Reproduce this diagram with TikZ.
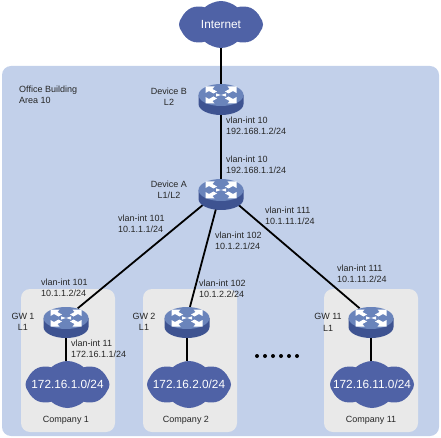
\documentclass[tikz,border=0pt]{standalone}
\usepackage{fontspec}
\setmainfont{Liberation Sans}
\usetikzlibrary{arrows.meta, shapes.geometric, shapes.symbols}
\definecolor{areablue}{HTML}{C2D0EA}
\definecolor{officegray}{HTML}{E9E9E9}
\definecolor{cloudblue}{HTML}{4F62A6}
\definecolor{routertop}{HTML}{6A84BB}
\definecolor{routerside}{HTML}{3E5391}
\newcommand{\smalltype}{\fontsize{9}{11.3}\selectfont}
\newcommand{\bigtype}{\fontsize{11.8}{14}\selectfont}

\tikzset{
  routerface/.pic = {
    \fill[routerside] (-22.5,0) -- (-22.5,9) arc[start angle=180, end angle=0, x radius=22.5, y radius=11] -- (22.5,0) -- cycle;
    \fill[routertop] (0,0) ellipse[x radius=22.5, y radius=11];
    \foreach \sx in {-1,1} {
      \foreach \sy in {-1,1} {
        % one outward arrow per corner
        \fill[white] (\sx*15.5,\sy*8.5) -- (\sx*6.5,\sy*8.5) -- (\sx*8.5,\sy*6) -- (\sx*4,\sy*3.5) -- (\sx*7.5,\sy*1.5) -- (\sx*12,\sy*4) -- (\sx*15.5,\sy*2) -- cycle;
      }
    }
    \fill[white] (-5,-1.6) -- (5,1.6) -- (5,-1.6) -- (-5,1.6) -- cycle;
  }
}

\begin{document}
\begin{tikzpicture}[
  x=1pt, y=-1pt,
  every node/.style = {font=\smalltype, text=black!85, inner sep=0pt},
  area/.style = {fill=areablue, rounded corners=9pt},
  office/.style = {fill=officegray, rounded corners=9pt},
  router/.style = {ellipse, minimum width=45pt, minimum height=22pt},
  lan/.style = {cloud, cloud puffs=8, cloud puff arc=85, aspect=1.85, fill=cloudblue, minimum width=84pt, minimum height=47pt,
    label={[text=white, font=\bigtype]center:#1}},
  info/.style = {align=left, anchor=west},
  devlabel/.style = {align=center},
  link/.style = {line width=1.8pt, black}
]
  \useasboundingbox (0,0) rectangle (441,438);

  \fill[area] (2,66) -- (439,66) -- (439,436) -- (2,436) -- cycle;
  \fill[office] (21,289) rectangle (115,432);
  \fill[office] (143,289) rectangle (237,432);
  \fill[office] (324,289) rectangle (418,432);

  \node[lan=Internet] (inet) at (221,24.5) {};
  \node[lan=172.16.1.0/24] (net1) at (67.5,384.5) {};
  \node[lan=172.16.2.0/24] (net2) at (189,384.5) {};
  \node[lan=172.16.11.0/24] (net11) at (372,384.5) {};

  \node[router] (devb) at (221,95) {};
  \node[router] (deva) at (221,190) {};
  \node[router] (gw1) at (66,318) {};
  \node[router] (gw2) at (187,318) {};
  \node[router] (gw11) at (371,318) {};

  \draw[link] (inet) -- (devb);
  \draw[link] (devb) -- (deva);
  \draw[link] (deva) -- (gw1);
  \draw[link] (deva) -- (gw2);
  \draw[link] (deva) -- (gw11);
  \draw[link] (gw1) -- (gw1 |- net1.north);
  \draw[link] (gw2) -- (gw2 |- net2.north);
  \draw[link] (gw11) -- (gw11 |- net11.north);

  \pic at (devb) {routerface};
  \pic at (deva) {routerface};
  \pic at (gw1) {routerface};
  \pic at (gw2) {routerface};
  \pic at (gw11) {routerface};

  \foreach \k in {0,...,5}
    \fill[black] (257+\k*8,356) circle[radius=2];

  \node[info] (office) at (19,94.5) {Office Building\\Area 10};
  \node[devlabel] (lblb) at (169,97) {Device B\\L2};
  \node[devlabel] (lbla) at (169,190) {Device A\\L1/L2};
  \node[devlabel] (lblgw1) at (23,322) {GW 1\\L1};
  \node[devlabel] (lblgw2) at (144,322) {GW 2\\L1};
  \node[devlabel] (lblgw11) at (328,322.5) {GW 11\\L1};

  \node[info] (ifb) at (226,125.5) {vlan-int 10\\192.168.1.2/24};
  \node[info] (ifa) at (226,164.5) {vlan-int 10\\192.168.1.1/24};
  \node[info] (ifa1) at (118,223.5) {vlan-int 101\\10.1.1.1/24};
  \node[info] (ifa2) at (215,240.5) {vlan-int 102\\10.1.2.1/24};
  \node[info] (ifa11) at (265,215.5) {vlan-int 111\\10.1.11.1/24};
  \node[info] (ifg1) at (41,287.5) {vlan-int 101\\10.1.1.2/24};
  \node[info] (ifg2) at (199,289) {vlan-int 102\\10.1.2.2/24};
  \node[info] (ifg11) at (337,273.5) {vlan-int 111\\10.1.11.2/24};
  \node[info] (ifn1) at (71,349) {vlan-int 11\\172.16.1.1/24};

  \node (co1) at (66,420) {Company 1};
  \node (co2) at (186,420.5) {Company 2};
  \node (co11) at (371,420.5) {Company 11};
\end{tikzpicture}
\end{document}
